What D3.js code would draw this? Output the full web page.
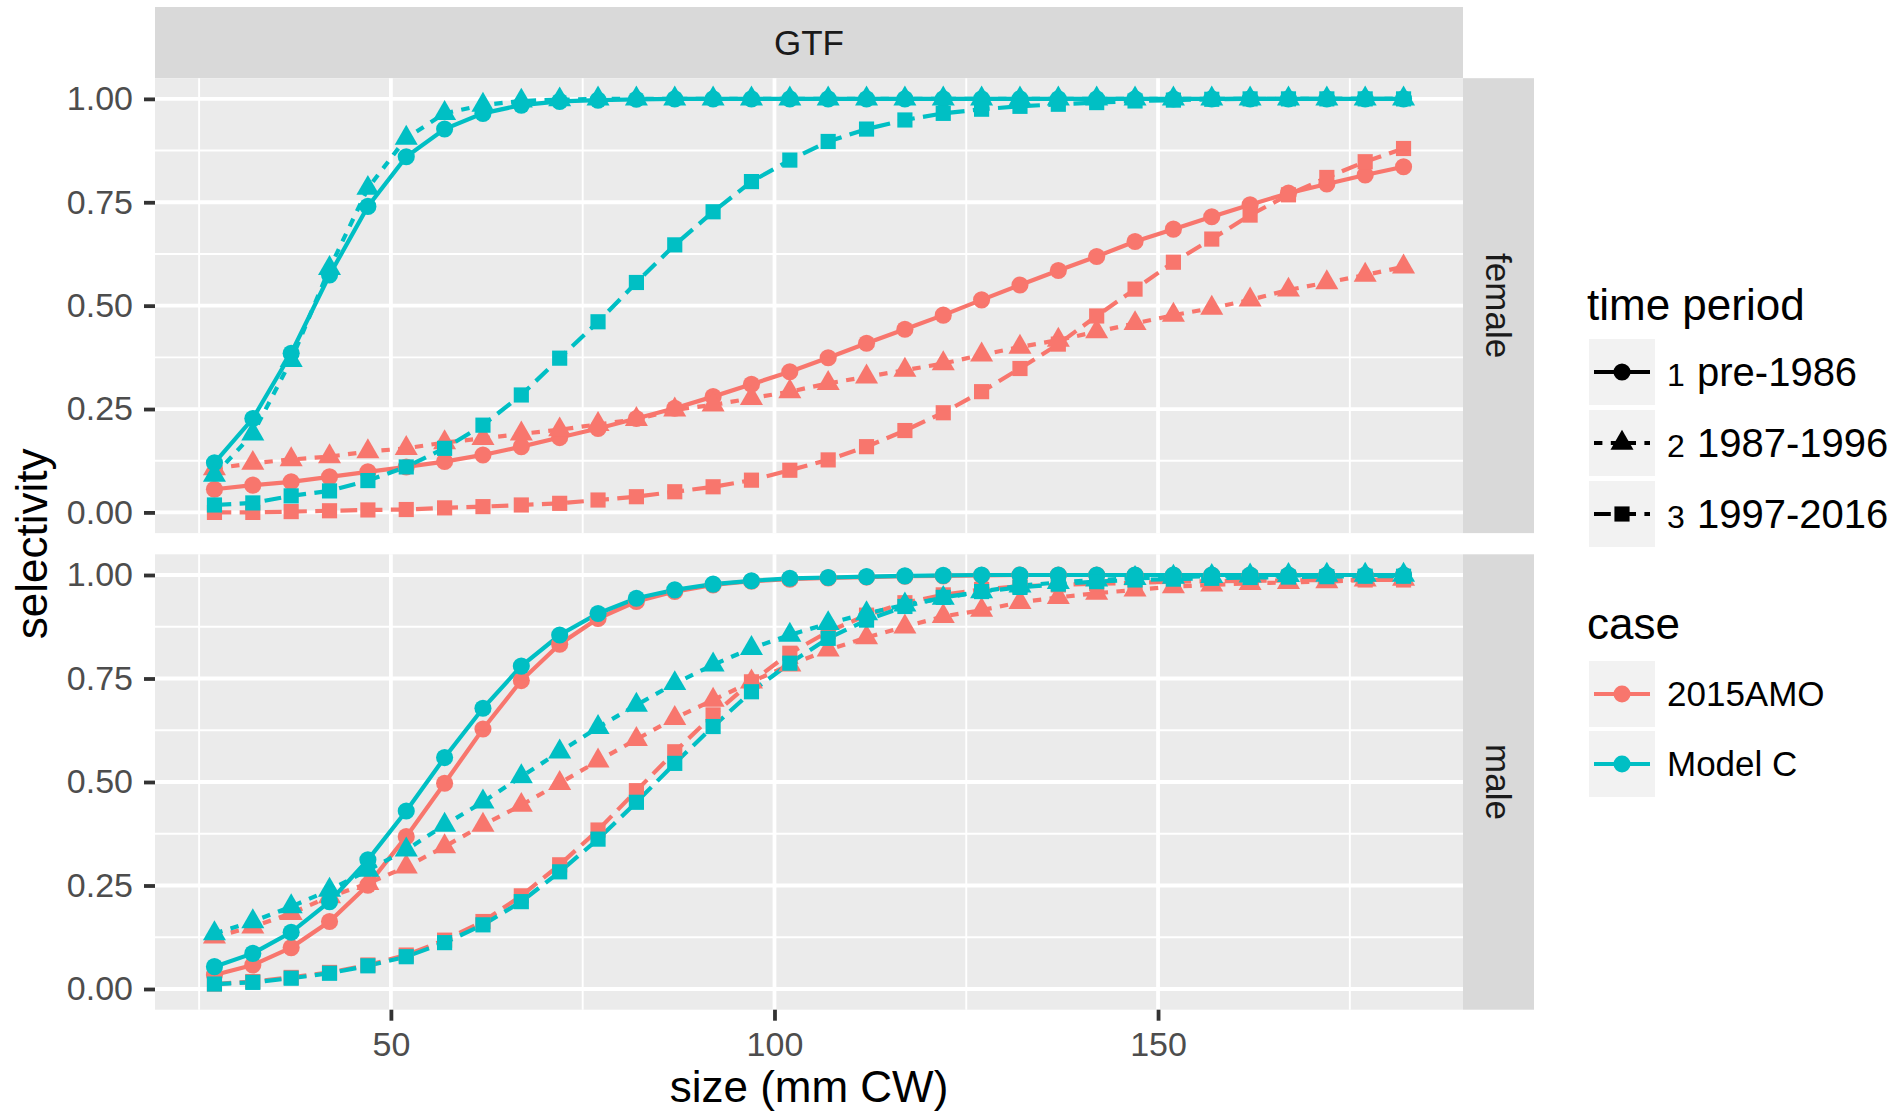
<!DOCTYPE html>
<html>
<head>
<meta charset="utf-8">
<script src="https://cdn.jsdelivr.net/npm/d3@7/dist/d3.min.js"></script>
<style>
  body { margin: 0; background: #fff; }
  svg text { font-family: "Liberation Sans", Arial, Helvetica, sans-serif; }
</style>
</head>
<body>
<div id="chart"></div>
<script>
// carapace width bins (mm CW)
const sizes = [27, 32, 37, 42, 47, 52, 57, 62, 67, 72, 77, 82, 87, 92, 97, 102,
               107, 112, 117, 122, 127, 132, 137, 142, 147, 152, 157, 162, 167, 172, 177, 182];

const cases = ["2015AMO", "Model C"];
const periodCodes = ["1", "2", "3"];
const periodNames = ["pre-1986", "1987-1996", "1997-2016"];
const sexes = ["female", "male"];
const yTicks = [0, 0.25, 0.5, 0.75, 1];
const yMinor = [0.125, 0.375, 0.625, 0.875];
const xTicks = [50, 100, 150];
const xMinor = [25, 75, 125, 175];

// female selectivity
const femaleAMO1 = [0.056, 0.066, 0.074, 0.086, 0.098, 0.110, 0.123, 0.139, 0.159, 0.181, 0.203, 0.227, 0.252, 0.280, 0.310, 0.340,
                    0.374, 0.409, 0.443, 0.477, 0.514, 0.550, 0.585, 0.619, 0.655, 0.685, 0.715, 0.744, 0.772, 0.794, 0.816, 0.836];
const femaleAMO2 = [0.106, 0.119, 0.128, 0.135, 0.147, 0.155, 0.169, 0.179, 0.190, 0.200, 0.213, 0.225, 0.248, 0.260, 0.276, 0.292,
                    0.312, 0.328, 0.344, 0.360, 0.381, 0.400, 0.417, 0.437, 0.457, 0.477, 0.494, 0.514, 0.538, 0.556, 0.574, 0.594];
const femaleAMO3 = [0.000, 0.000, 0.002, 0.004, 0.006, 0.007, 0.011, 0.014, 0.018, 0.022, 0.030, 0.038, 0.050, 0.062, 0.078, 0.102,
                    0.127, 0.159, 0.198, 0.241, 0.292, 0.348, 0.407, 0.475, 0.540, 0.605, 0.661, 0.719, 0.768, 0.810, 0.848, 0.880];
const femaleC1 = [0.120, 0.227, 0.385, 0.574, 0.740, 0.860, 0.927, 0.965, 0.985, 0.994, 0.997, 0.999, 1, 1, 1, 1,
                  1, 1, 1, 1, 1, 1, 1, 1, 1, 1, 1, 1, 1, 1, 1, 1];
const femaleC2 = [0.090, 0.190, 0.368, 0.590, 0.784, 0.905, 0.965, 0.985, 0.995, 0.998, 1, 1, 1, 1, 1, 1,
                  1, 1, 1, 1, 1, 1, 1, 1, 1, 1, 1, 1, 1, 1, 1, 1];
const femaleC3 = [0.018, 0.023, 0.040, 0.052, 0.077, 0.110, 0.155, 0.211, 0.284, 0.373, 0.461, 0.556, 0.647, 0.727, 0.800, 0.852,
                  0.897, 0.927, 0.949, 0.965, 0.975, 0.982, 0.987, 0.991, 0.995, 0.997, 0.999, 1, 1, 1, 1, 1];

// male selectivity
const maleAMO1 = [0.034, 0.058, 0.100, 0.163, 0.251, 0.368, 0.497, 0.628, 0.745, 0.833, 0.895, 0.936, 0.960, 0.976, 0.985, 0.990,
                  0.993, 0.995, 0.997, 0.998, 0.999, 1, 1, 1, 1, 1, 1, 1, 1, 1, 1, 1];
const maleAMO2 = [0.126, 0.150, 0.183, 0.223, 0.255, 0.295, 0.344, 0.396, 0.444, 0.497, 0.551, 0.603, 0.654, 0.698, 0.742, 0.783,
                  0.819, 0.849, 0.875, 0.900, 0.915, 0.934, 0.946, 0.956, 0.964, 0.972, 0.976, 0.980, 0.982, 0.984, 0.988, 0.990];
const maleAMO3 = [0.012, 0.018, 0.028, 0.040, 0.058, 0.082, 0.118, 0.163, 0.225, 0.300, 0.384, 0.479, 0.573, 0.662, 0.742, 0.811,
                  0.863, 0.903, 0.933, 0.952, 0.965, 0.973, 0.976, 0.979, 0.981, 0.984, 0.985, 0.986, 0.987, 0.988, 0.988, 0.988];
const maleC1 = [0.054, 0.086, 0.137, 0.211, 0.312, 0.430, 0.559, 0.678, 0.780, 0.855, 0.907, 0.944, 0.964, 0.978, 0.986, 0.992,
                0.994, 0.996, 0.998, 0.999, 1, 1, 1, 1, 1, 1, 1, 1, 1, 1, 1, 1];
const maleC2 = [0.134, 0.163, 0.199, 0.239, 0.287, 0.336, 0.396, 0.452, 0.513, 0.573, 0.632, 0.686, 0.738, 0.783, 0.823, 0.855,
                0.883, 0.907, 0.928, 0.944, 0.960, 0.974, 0.982, 0.988, 0.992, 0.995, 0.997, 0.998, 0.999, 1, 1, 1];
const maleC3 = [0.012, 0.016, 0.026, 0.038, 0.056, 0.078, 0.112, 0.155, 0.211, 0.283, 0.362, 0.451, 0.545, 0.634, 0.718, 0.787,
                0.847, 0.891, 0.924, 0.946, 0.960, 0.970, 0.978, 0.984, 0.988, 0.990, 0.992, 0.994, 0.995, 0.996, 0.997, 0.997];

const selectivity = {
    female: { "2015AMO": [femaleAMO1, femaleAMO2, femaleAMO3], "Model C": [femaleC1, femaleC2, femaleC3] },
    male:   { "2015AMO": [maleAMO1, maleAMO2, maleAMO3],       "Model C": [maleC1, maleC2, maleC3] }
};

// look
const colour = d3.scaleOrdinal(cases, ["#F8766D", "#00BFC4"]);
const lineW = 4.2;
const dashes = ["none", "8.4,8.4", "16.8,8.4"];   // ggplot "solid", "22", "42"
const shapes = [d3.symbolCircle, d3.symbolTriangle, d3.symbolSquare];
const symSize = 230;

const W = 1902, H = 1116;
const panelX0 = 155, panelX1 = 1463;
const panels = { female: [78.2, 533.1], male: [554.3, 1009.7] };

const svg = d3.select("#chart").append("svg")
    .attr("width", W)
    .attr("height", H);

const x = d3.scaleLinear().domain([19.25, 189.75]).range([panelX0, panelX1]);

// top strip
svg.append("rect")
    .attr("x", panelX0).attr("y", 7)
    .attr("width", panelX1 - panelX0).attr("height", 71.2)
    .attr("fill", "#D9D9D9");
svg.append("text")
    .attr("x", (panelX0 + panelX1) / 2).attr("y", 55)
    .attr("text-anchor", "middle")
    .style("font-size", "35px")
    .attr("fill", "#1A1A1A")
    .text("GTF");

sexes.forEach(function(sex) {
    const [top, bottom] = panels[sex];
    const y = d3.scaleLinear().domain([-0.05, 1.05]).range([bottom, top]);
    const g = svg.append("g");

    g.append("rect")
        .attr("x", panelX0).attr("y", top)
        .attr("width", panelX1 - panelX0).attr("height", bottom - top)
        .attr("fill", "#EBEBEB");

    // grid
    g.selectAll(".hminor").data(yMinor).enter().append("line")
        .attr("x1", panelX0).attr("x2", panelX1)
        .attr("y1", d => y(d)).attr("y2", d => y(d))
        .attr("stroke", "#fff").attr("stroke-width", 1.9);
    g.selectAll(".vminor").data(xMinor).enter().append("line")
        .attr("x1", d => x(d)).attr("x2", d => x(d))
        .attr("y1", top).attr("y2", bottom)
        .attr("stroke", "#fff").attr("stroke-width", 1.9);
    g.selectAll(".hmajor").data(yTicks).enter().append("line")
        .attr("x1", panelX0).attr("x2", panelX1)
        .attr("y1", d => y(d)).attr("y2", d => y(d))
        .attr("stroke", "#fff").attr("stroke-width", 3.8);
    g.selectAll(".vmajor").data(xTicks).enter().append("line")
        .attr("x1", d => x(d)).attr("x2", d => x(d))
        .attr("y1", top).attr("y2", bottom)
        .attr("stroke", "#fff").attr("stroke-width", 3.8);

    // lines first, then points (ggplot layer order)
    const line = d3.line().x((d, i) => x(sizes[i])).y(d => y(d));
    cases.forEach(function(c) {
        selectivity[sex][c].forEach(function(vals, p) {
            g.append("path")
                .datum(vals)
                .attr("fill", "none")
                .attr("stroke", colour(c))
                .attr("stroke-width", lineW)
                .attr("stroke-dasharray", dashes[p])
                .attr("d", line);
        });
    });
    cases.forEach(function(c) {
        selectivity[sex][c].forEach(function(vals, p) {
            g.selectAll(null).data(vals).enter().append("path")
                .attr("transform", (d, i) => "translate(" + x(sizes[i]) + "," + y(d) + ")")
                .attr("d", d3.symbol().type(shapes[p]).size(symSize))
                .attr("fill", colour(c));
        });
    });

    // y axis
    const ya = svg.append("g")
        .attr("transform", "translate(" + panelX0 + ",0)")
        .call(d3.axisLeft(y).tickValues(yTicks).tickFormat(d3.format(".2f")).tickSize(11).tickPadding(11));
    ya.select(".domain").remove();
    ya.selectAll("line").attr("stroke", "#333333").attr("stroke-width", 3.8);
    ya.selectAll("text").attr("fill", "#4D4D4D").style("font-size", "34px")
        .style("font-family", '"Liberation Sans", Arial, sans-serif');

    // right strip
    svg.append("rect")
        .attr("x", panelX1).attr("y", top)
        .attr("width", 71).attr("height", bottom - top)
        .attr("fill", "#D9D9D9");
    svg.append("text")
        .attr("transform", "translate(" + (panelX1 + 35.5) + "," + ((top + bottom) / 2) + ") rotate(90)")
        .attr("y", 12.5)
        .attr("text-anchor", "middle")
        .style("font-size", "35px")
        .attr("fill", "#1A1A1A")
        .text(sex);

    if (sex === "male") {
        const xa = svg.append("g")
            .attr("transform", "translate(0," + bottom + ")")
            .call(d3.axisBottom(x).tickValues(xTicks).tickSize(11).tickPadding(11));
        xa.select(".domain").remove();
        xa.selectAll("line").attr("stroke", "#333333").attr("stroke-width", 3.8);
        xa.selectAll("text").attr("fill", "#4D4D4D").style("font-size", "34px")
            .style("font-family", '"Liberation Sans", Arial, sans-serif');
    }
});

// axis titles
svg.append("text")
    .attr("x", (panelX0 + panelX1) / 2).attr("y", 1102)
    .attr("text-anchor", "middle")
    .style("font-size", "44px")
    .attr("fill", "#000")
    .text("size (mm CW)");
svg.append("text")
    .attr("transform", "translate(47," + ((panels.female[0] + panels.male[1]) / 2) + ") rotate(-90)")
    .attr("text-anchor", "middle")
    .style("font-size", "44px")
    .attr("fill", "#000")
    .text("selectivity");

// legend: time period
const legX = 1589, keyW = 66;
svg.append("text")
    .attr("x", 1587).attr("y", 320)
    .style("font-size", "44px")
    .text("time period");

const periodKeyY = [339, 410, 481];
periodKeyY.forEach(function(ky, p) {
    const cy = ky + keyW / 2;
    svg.append("rect")
        .attr("x", legX).attr("y", ky)
        .attr("width", keyW).attr("height", keyW)
        .attr("fill", "#F2F2F2");
    svg.append("line")
        .attr("x1", legX + 5).attr("x2", legX + keyW - 5)
        .attr("y1", cy).attr("y2", cy)
        .attr("stroke", "#000").attr("stroke-width", lineW)
        .attr("stroke-dasharray", dashes[p]);
    svg.append("path")
        .attr("transform", "translate(" + (legX + keyW / 2) + "," + cy + ")")
        .attr("d", d3.symbol().type(shapes[p]).size(symSize))
        .attr("fill", "#000");
    const t = svg.append("text").attr("y", cy + 14).attr("fill", "#000");
    t.append("tspan").attr("x", 1667).style("font-size", "32px").text(periodCodes[p]);
    t.append("tspan").attr("x", 1697).style("font-size", "40px").text(periodNames[p]);
});

// legend: case
svg.append("text")
    .attr("x", 1587).attr("y", 639)
    .style("font-size", "44px")
    .text("case");

const caseKeyY = [661, 731];
caseKeyY.forEach(function(ky, i) {
    const cy = ky + keyW / 2;
    svg.append("rect")
        .attr("x", legX).attr("y", ky)
        .attr("width", keyW).attr("height", keyW)
        .attr("fill", "#F2F2F2");
    svg.append("line")
        .attr("x1", legX + 5).attr("x2", legX + keyW - 5)
        .attr("y1", cy).attr("y2", cy)
        .attr("stroke", colour(cases[i])).attr("stroke-width", lineW);
    svg.append("circle")
        .attr("cx", legX + keyW / 2).attr("cy", cy)
        .attr("r", 8.5)
        .attr("fill", colour(cases[i]));
    svg.append("text")
        .attr("x", 1667).attr("y", cy + 12)
        .style("font-size", "35px")
        .attr("fill", "#000")
        .text(cases[i]);
});
</script>
</body>
</html>
